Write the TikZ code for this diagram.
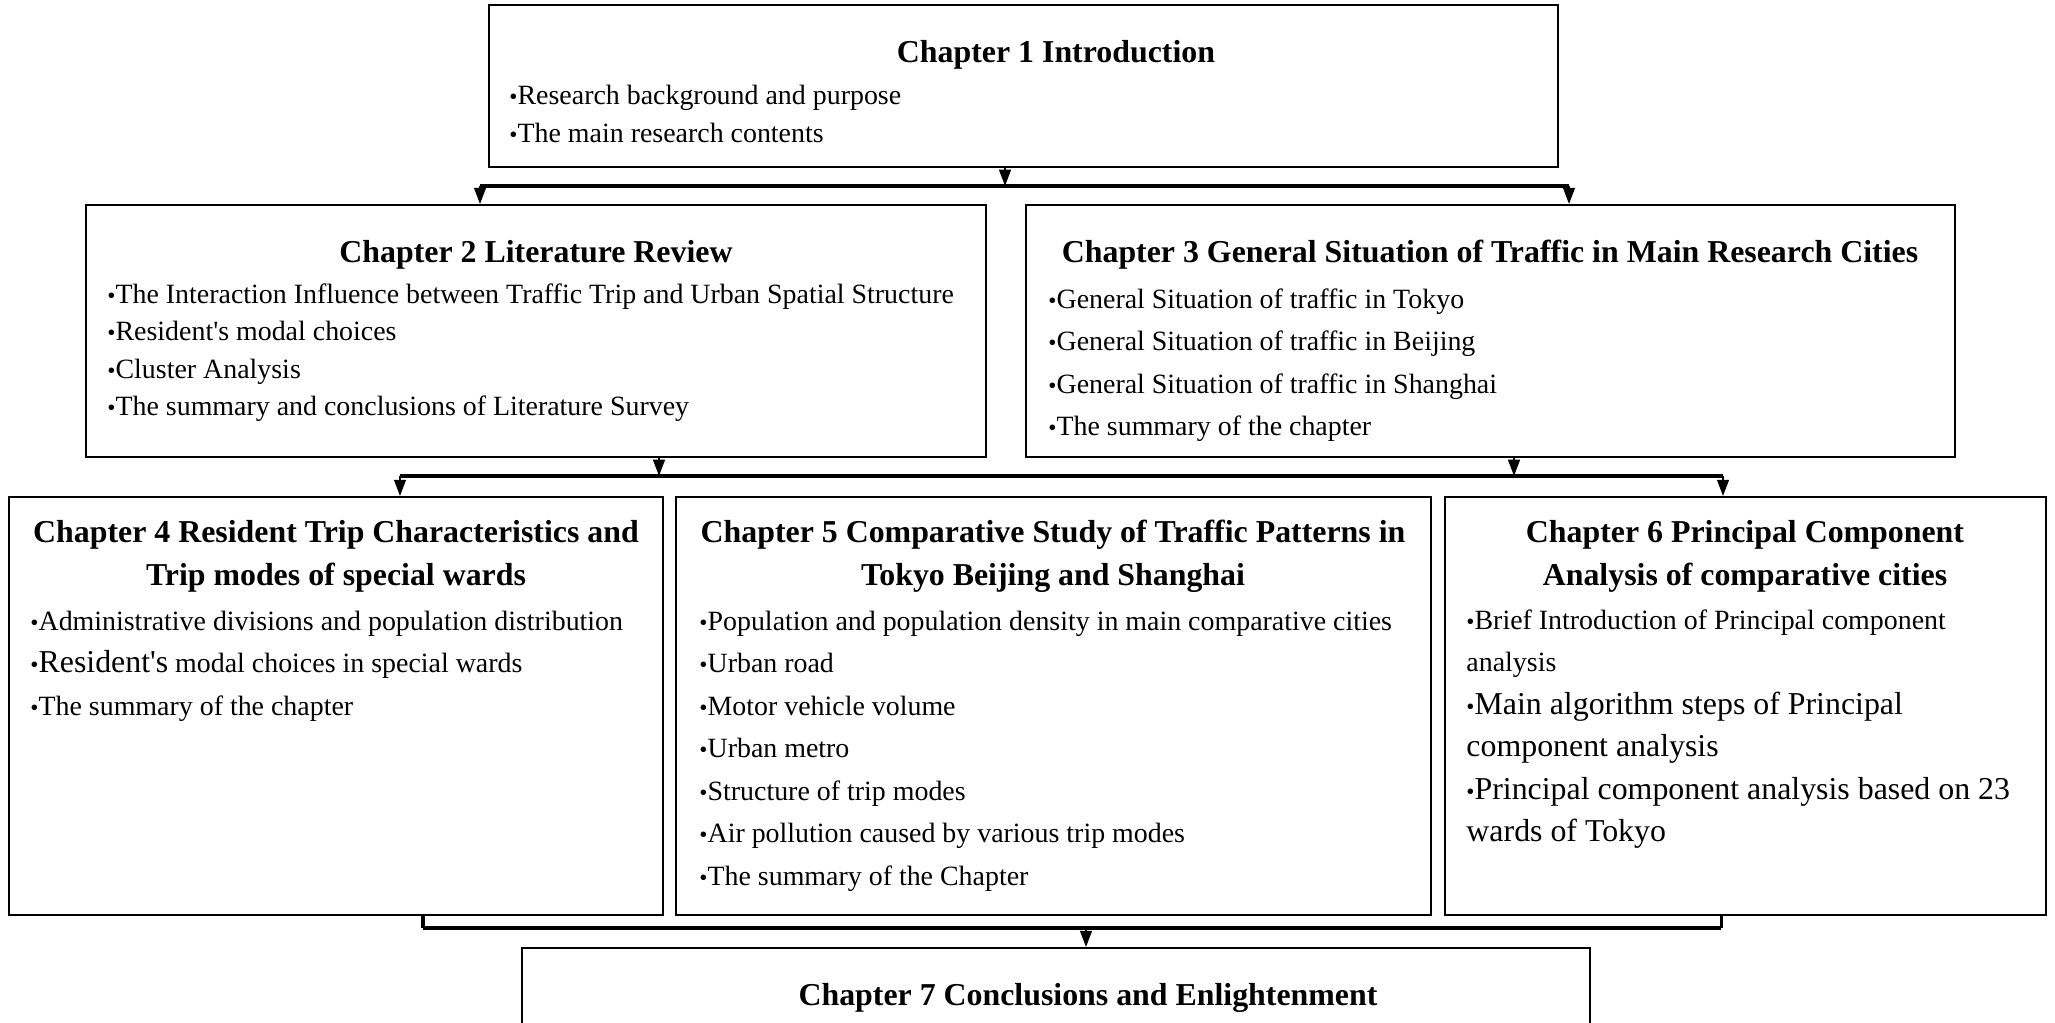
\documentclass[tikz,border=0pt]{standalone}
\usepackage{fontspec}
\setmainfont{Liberation Serif}
\usetikzlibrary{arrows.meta,fit}

\tikzset{
  chapbox/.style={draw, line width=0.8pt, inner sep=0pt},
  chaptitle/.style={anchor=base, inner sep=0pt, font=\fontsize{13.7pt}{16pt}\selectfont\bfseries},
  item/.style={anchor=base west, inner sep=0pt, font=\fontsize{12pt}{14pt}\selectfont},
  bus/.style={line width=1.5pt},
  stub/.style={line width=1.3pt},
  tap/.style={line width=1pt, -{Triangle[length=7pt,width=5pt]}},
}
\newcommand{\bigtxt}[1]{{\fontsize{13.7pt}{16pt}\selectfont #1}}
\newcommand{\dotmark}{{\fontsize{10pt}{11pt}\selectfont\textbullet}}

\begin{document}
\begin{tikzpicture}[x=0.43pt, y=-0.43pt, line join=miter]
  \useasboundingbox (0,0) rectangle (2055,1022);

  % chapter boxes
  \node[chapbox, fit={(489,5) (1558,167)}] (c1) {};
  \node[chapbox, fit={(86,205) (986,457)}] (c2) {};
  \node[chapbox, fit={(1026,205) (1955,457)}] (c3) {};
  \node[chapbox, fit={(9,497) (663,915)}] (c4) {};
  \node[chapbox, fit={(676,497) (1431,915)}] (c5) {};
  \node[chapbox, fit={(1445,497) (2046,915)}] (c6) {};
  \node[chapbox, fit={(522,948) (1590,1040)}] (c7) {};

  % titles
  \node[chaptitle] (t1) at (1056,63) {Chapter 1 Introduction};
  \node[chaptitle] (t2) at (536,262) {Chapter 2 Literature Review};
  \node[chaptitle] (t3) at (1490,262) {Chapter 3 General Situation of Traffic in Main Research Cities};
  \node[chaptitle] (t4a) at (336,542) {Chapter 4 Resident Trip Characteristics and};
  \node[chaptitle] (t4b) at (336,585) {Trip modes of special wards};
  \node[chaptitle] (t5a) at (1053,542) {Chapter 5 Comparative Study of Traffic Patterns in};
  \node[chaptitle] (t5b) at (1053,585) {Tokyo Beijing and Shanghai};
  \node[chaptitle] (t6a) at (1745,542) {Chapter 6 Principal Component};
  \node[chaptitle] (t6b) at (1745,585) {Analysis of comparative cities};
  \node[chaptitle] (t7) at (1088,1005) {Chapter 7 Conclusions and Enlightenment};

  % contents
  \foreach \txt [count=\i from 0] in {Research background and purpose, The main research contents}
    \node[item] (i1-\i) at (509,105+37*\i) {\dotmark\txt};
  \foreach \txt [count=\i from 0] in {The Interaction Influence between Traffic Trip and Urban Spatial Structure,
      Resident\textquotesingle s modal choices, Cluster Analysis, The summary and conclusions of Literature Survey}
    \node[item] (i2-\i) at (107,303+37.5*\i) {\dotmark\txt};
  \foreach \txt [count=\i from 0] in {General Situation of traffic in Tokyo, General Situation of traffic in Beijing,
      General Situation of traffic in Shanghai, The summary of the chapter}
    \node[item] (i3-\i) at (1048,308+42.5*\i) {\dotmark\txt};
  \foreach \txt [count=\i from 0] in {Administrative divisions and population distribution,
      \bigtxt{Resident\textquotesingle s} modal choices in special wards, The summary of the chapter}
    \node[item] (i4-\i) at (30,630+42.5*\i) {\dotmark\txt};
  \foreach \txt [count=\i from 0] in {Population and population density in main comparative cities,
      Urban road, Motor vehicle volume, Urban metro, Structure of trip modes,
      Air pollution caused by various trip modes, The summary of the Chapter}
    \node[item] (i5-\i) at (699,630+42.5*\i) {\dotmark\txt};
  \foreach \txt [count=\i from 0] in {\dotmark Brief Introduction of Principal component, analysis,
      \dotmark\bigtxt{Main algorithm steps of Principal}, \bigtxt{component analysis},
      \dotmark\bigtxt{Principal component analysis based on 23}, \bigtxt{wards of Tokyo}}
    \node[item] (i6-\i) at (1466,629+42.5*\i) {\txt};

  % connectors
  \coordinate (b1l) at (480,186);
  \coordinate (b1m) at (1005,186);
  \coordinate (b1r) at (1569,186);
  \draw[bus] (b1l) -- (b1r);
  \draw[tap] (b1m |- c1.south) -- (b1m);
  \draw[tap] (b1l) -- (b1l |- c2.north);
  \draw[tap] (b1r) -- (b1r |- c3.north);

  \coordinate (b2l) at (400,476);
  \coordinate (b2a) at (659,476);
  \coordinate (b2b) at (1514,476);
  \coordinate (b2r) at (1723,476);
  \draw[bus] (b2l) -- (b2r);
  \draw[tap] (b2a |- c2.south) -- (b2a);
  \draw[tap] (b2b |- c3.south) -- (b2b);
  \draw[tap] (b2l) -- (b2l |- c4.north);
  \draw[tap] (b2r) -- (b2r |- c6.north);

  \coordinate (b3l) at (423,928);
  \coordinate (b3m) at (1086,928);
  \coordinate (b3r) at (1721,928);
  \draw[stub] (b3l |- c4.south) -- (b3l);
  \draw[stub] (b3r |- c6.south) -- (b3r);
  \draw[bus] (b3l) -- (b3r);
  \draw[tap] (b3m) -- (b3m |- c7.north);
\end{tikzpicture}
\end{document}
